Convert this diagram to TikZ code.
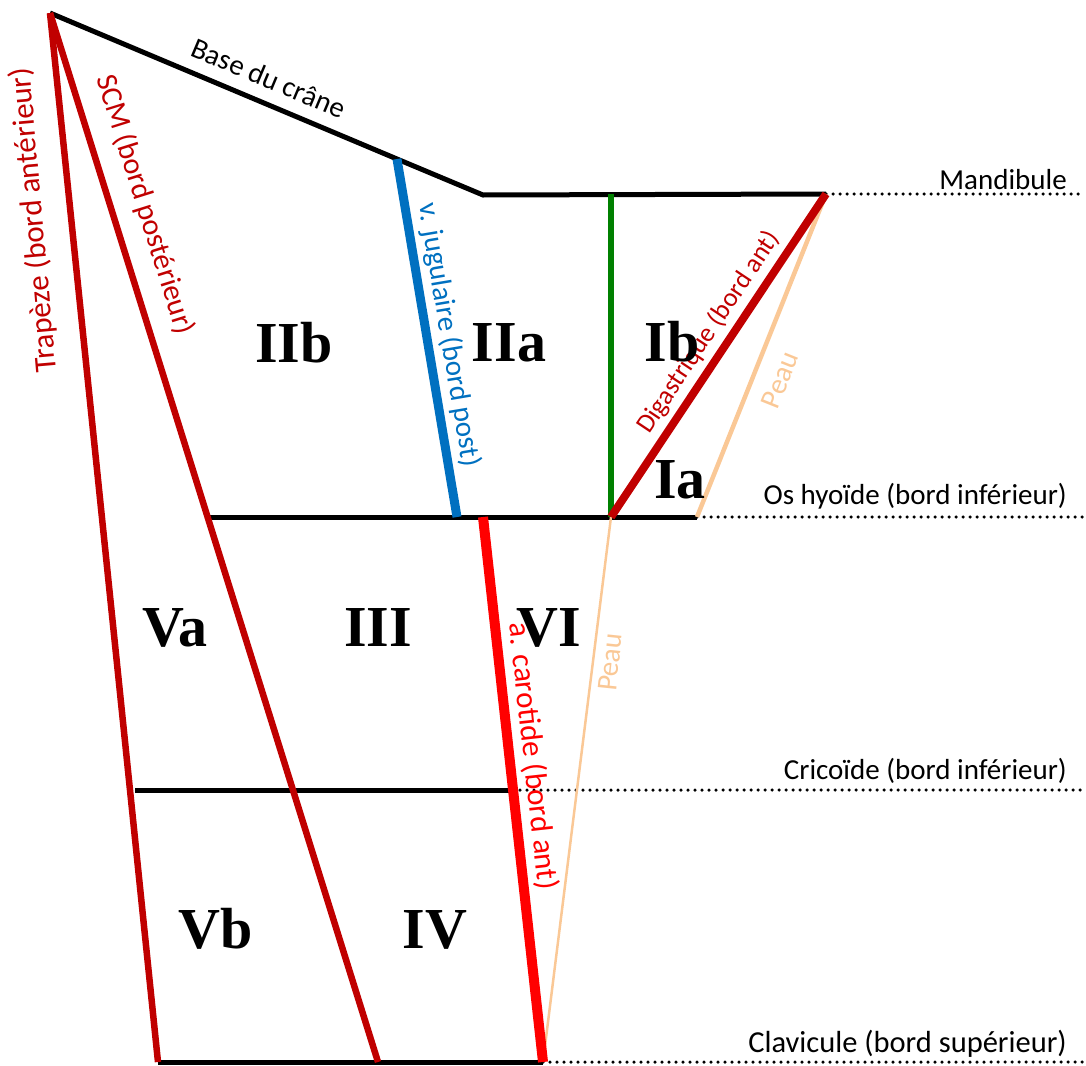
\documentclass[tikz,border=0pt]{standalone}
\usepackage{fontspec}
\setmainfont{Carlito}
\newfontfamily\zonefont{Liberation Serif}
\definecolor{muscle}{RGB}{192,0,0}
\definecolor{artery}{RGB}{255,0,0}
\definecolor{vein}{RGB}{0,112,192}
\definecolor{nerve}{RGB}{0,128,0}
\definecolor{skin}{RGB}{250,200,150}

\begin{document}
\begin{tikzpicture}[x=1pt,y=-1pt,
	edge/.style={line width=5pt},
	limit/.style={line width=3.5pt, line cap=round, dash pattern=on 0pt off 7pt},
	lab/.style={font=\fontsize{29}{34}\selectfont, inner sep=0pt},
	biglab/.style={font=\fontsize{31}{36}\selectfont, inner sep=0pt},
	zone/.style={font=\zonefont\bfseries\fontsize{58}{64}\selectfont, inner sep=0pt, anchor=base}]
	\useasboundingbox (0,0) rectangle (1086,1065);
	\coordinate (apex) at (50,13);
	\coordinate (jugT) at (397,159);
	\coordinate (mandL) at (483,195);
	\coordinate (mandR) at (826,194);
	\coordinate (mandE) at (1084,194);
	\coordinate (greenT) at (611,194);
	\coordinate (hyoL) at (208,517);
	\coordinate (jugB) at (457,517);
	\coordinate (carT) at (483,517);
	\coordinate (greenB) at (611,517);
	\coordinate (hyoR) at (697,517);
	\coordinate (hyoE) at (1084,517);
	\coordinate (cricL) at (135,790);
	\coordinate (cricR) at (513,790);
	\coordinate (cricE) at (1084,790);
	\coordinate (trapB) at (158,1062);
	\coordinate (scmB) at (378,1062);
	\coordinate (carB) at (543,1062);
	\coordinate (clavE) at (1084,1062);

	\draw[edge] (apex) -- (jugT) -- (mandL) -- (mandR);
	\draw[edge] (hyoL) -- (hyoR);
	\draw[edge] (cricL) -- (cricR);
	\draw[edge] (trapB) -- (carB);
	\draw[limit] (mandR) -- (mandE);
	\draw[limit] (hyoR) -- (hyoE);
	\draw[limit] (cricR) -- (cricE);
	\draw[limit] (carB) -- (clavE);

	\draw[color=skin, line width=2.5pt] (greenB) -- (carB);
	\draw[color=skin, line width=4.5pt] (hyoR) -- (mandR);
	\draw[color=nerve, line width=6pt] (greenT) -- (greenB);
	\draw[color=muscle, line width=8pt] (greenB) -- (mandR);
	\draw[color=vein, line width=9pt] (jugT) -- (jugB);
	\draw[color=artery, line width=10pt] (carT) -- (carB);
	\draw[color=muscle, line width=6.5pt] (apex) -- (trapB);
	\draw[color=muscle, line width=6.5pt] (apex) -- (scmB);

	\node[lab, rotate=-22.8] (crane) at (269,78) {Base du crâne};
	\node[biglab, rotate=95, color=muscle] (trap) at (34,220) {Trapèze (bord antérieur)};
	\node[lab, font=\fontsize{30}{35}\selectfont, rotate=-72.6, color=muscle] (scm) at (145,205) {SCM (bord postérieur)};
	\node[lab, rotate=-80.5, color=vein] (jug) at (449,335) {v. jugulaire (bord post)};
	\node[lab, font=\fontsize{26.5}{31}\selectfont, rotate=56.3, anchor=base west, color=muscle] (dig) at (649,435) {Digastrique (bord ant)};
	\node[lab, rotate=68.2, color=skin] (peauH) at (780,380) {Peau};
	\node[lab, rotate=84, color=skin] (peauB) at (610,662) {Peau};
	\node[biglab, rotate=-83.7, color=artery] (car) at (533,756) {a. carotide (bord ant)};

	\node[lab, anchor=base east] (mand) at (1067,189) {Mandibule};
	\node[lab, anchor=base east] (hyo) at (1067,504) {Os hyoïde (bord inférieur)};
	\node[lab, anchor=base east] (cric) at (1067,779) {Cricoïde (bord inférieur)};
	\node[lab, font=\fontsize{30.5}{35}\selectfont, anchor=base east] (clav) at (1067,1052) {Clavicule (bord supérieur)};

	\node[zone] (IIb) at (294,362) {IIb};
	\node[zone] (IIa) at (509,361) {IIa};
	\node[zone] (Ib) at (672,361) {Ib};
	\node[zone] (Ia) at (680,498) {Ia};
	\node[zone] (Va) at (175,646) {Va};
	\node[zone] (III) at (378,646) {III};
	\node[zone] (VI) at (549,646) {VI};
	\node[zone] (Vb) at (216,948) {Vb};
	\node[zone] (IV) at (435,948) {IV};
\end{tikzpicture}
\end{document}
